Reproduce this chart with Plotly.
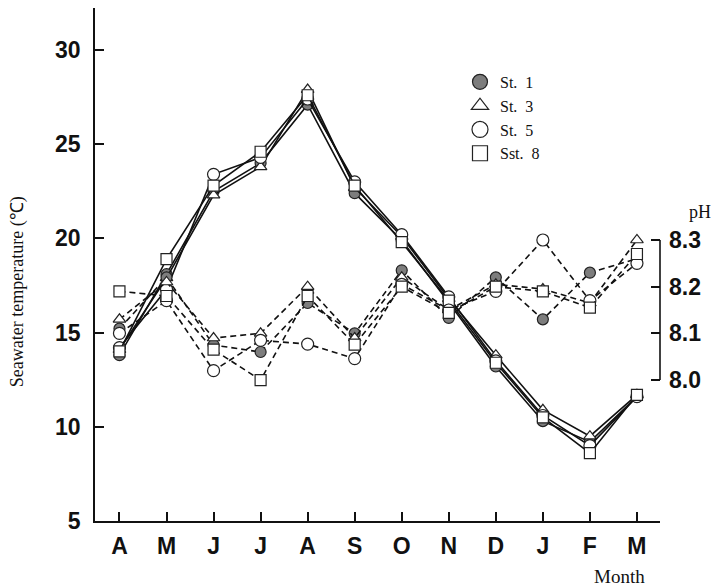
import plotly.graph_objects as go

months = ["A", "M", "J", "J", "A", "S", "O", "N", "D", "J", "F", "M"]
stations = ["St.  1", "St.  3", "St.  5", "Sst.  8"]

temp_st1 = [13.8, 18.1, 22.5, 24.0, 27.1, 22.4, 19.9, 16.6, 13.2, 10.3, 9.2, 11.6]
temp_st3 = [14.1, 17.9, 22.3, 23.8, 27.9, 22.7, 20.1, 16.8, 13.8, 10.9, 9.5, 11.7]
temp_st5 = [14.2, 17.3, 23.4, 24.3, 27.4, 23.0, 20.2, 16.9, 13.5, 10.6, 9.0, 11.6]
temp_st8 = [14.0, 18.9, 22.8, 24.6, 27.6, 22.8, 19.8, 16.7, 13.4, 10.5, 8.6, 11.7]

ph_st1 = [8.11, 8.22, 8.075, 8.06, 8.165, 8.10, 8.235, 8.133, 8.22, 8.13, 8.23, 8.26]
ph_st3 = [8.13, 8.21, 8.09, 8.10, 8.20, 8.09, 8.22, 8.15, 8.205, 8.195, 8.165, 8.30]
ph_st5 = [8.10, 8.17, 8.02, 8.085, 8.077, 8.046, 8.205, 8.15, 8.19, 8.30, 8.17, 8.25]
ph_st8 = [8.19, 8.18, 8.065, 8.00, 8.18, 8.076, 8.20, 8.144, 8.20, 8.19, 8.155, 8.27]

temps = [temp_st1, temp_st3, temp_st5, temp_st8]
phs = [ph_st1, ph_st3, ph_st5, ph_st8]

symbols = ["circle", "triangle-up", "circle", "square"]
fills = ["#7d7d7d", "white", "white", "white"]
sizes = [11, 11, 12, 11]

x = list(range(len(months)))

fig = go.Figure()

for i in range(4):
    mk = dict(symbol=symbols[i], size=sizes[i], color=fills[i],
              line=dict(color="#222", width=1.2))
    fig.add_trace(go.Scatter(x=x, y=phs[i], yaxis="y2", mode="lines+markers",
                             line=dict(color="#111", width=1.6, dash="6px,4px"),
                             marker=mk, showlegend=False))
for i in range(4):
    mk = dict(symbol=symbols[i], size=sizes[i], color=fills[i],
              line=dict(color="#222", width=1.2))
    fig.add_trace(go.Scatter(x=x, y=temps[i], mode="lines+markers",
                             line=dict(color="#111", width=1.6),
                             marker=mk, showlegend=False))
for i in range(4):
    fig.add_trace(go.Scatter(x=[None], y=[None], mode="markers", name=stations[i],
                             marker=dict(symbol=symbols[i], size=sizes[i] + 4, color=fills[i],
                                         line=dict(color="#222", width=1.2))))

tickfont = dict(family="Liberation Sans", size=23, color="#111", weight="bold")

fig.update_layout(
    width=719, height=588,
    margin=dict(l=95, r=59, t=8, b=67),
    plot_bgcolor="white", paper_bgcolor="white",
    font=dict(family="Liberation Serif", color="#111"),
    xaxis=dict(range=[-0.52, 11.49], tickvals=x, ticktext=months,
               ticks="inside", ticklen=9, tickwidth=1.5, tickcolor="#111",
               showline=True, linewidth=1.6, linecolor="#111",
               showgrid=False, zeroline=False, tickfont=tickfont,
               ticklabelstandoff=4),
    yaxis=dict(range=[5, 32.23], tickvals=[5, 10, 15, 20, 25, 30],
               ticks="inside", ticklen=9, tickwidth=1.5, tickcolor="#111",
               showline=True, linewidth=1.6, linecolor="#111",
               showgrid=False, zeroline=False, tickfont=tickfont,
               ticklabelstandoff=8),
    yaxis2=dict(overlaying="y", side="right", range=[7.698, 8.797],
                tickvals=[8.0, 8.1, 8.2, 8.3], ticktext=["8.0", "8.1", "8.2", "8.3"],
                ticks="inside", ticklen=9, tickwidth=1.5, tickcolor="#111",
                showline=False, showgrid=False, zeroline=False, tickfont=tickfont,
                ticklabelstandoff=8),
    legend=dict(x=0.646, y=0.889, xanchor="left", yanchor="top",
                font=dict(family="Liberation Serif", size=16, color="#111"),
                bgcolor="rgba(0,0,0,0)", itemwidth=30, tracegroupgap=0),
    shapes=[dict(type="line", xref="paper", yref="y2", x0=1, x1=1, y0=8.0, y1=8.3,
                 line=dict(color="#111", width=1.6))],
    annotations=[
        dict(text="Seawater temperature (℃)", xref="paper", yref="paper",
             x=-0.138, y=0.446, xanchor="center", yanchor="middle", textangle=-90,
             showarrow=False,
             font=dict(family="Liberation Serif", size=18, color="#111")),
        dict(text="Month", xref="paper", yref="paper", x=0.929, y=-0.109,
             xanchor="center", yanchor="middle",
             showarrow=False, font=dict(family="Liberation Serif", size=19, color="#111")),
        dict(text="pH", xref="paper", yref="paper", x=1.071, y=0.602,
             xanchor="center", yanchor="middle",
             showarrow=False, font=dict(family="Liberation Serif", size=18, color="#111")),
    ],
)

fig.write_html("out.html")
